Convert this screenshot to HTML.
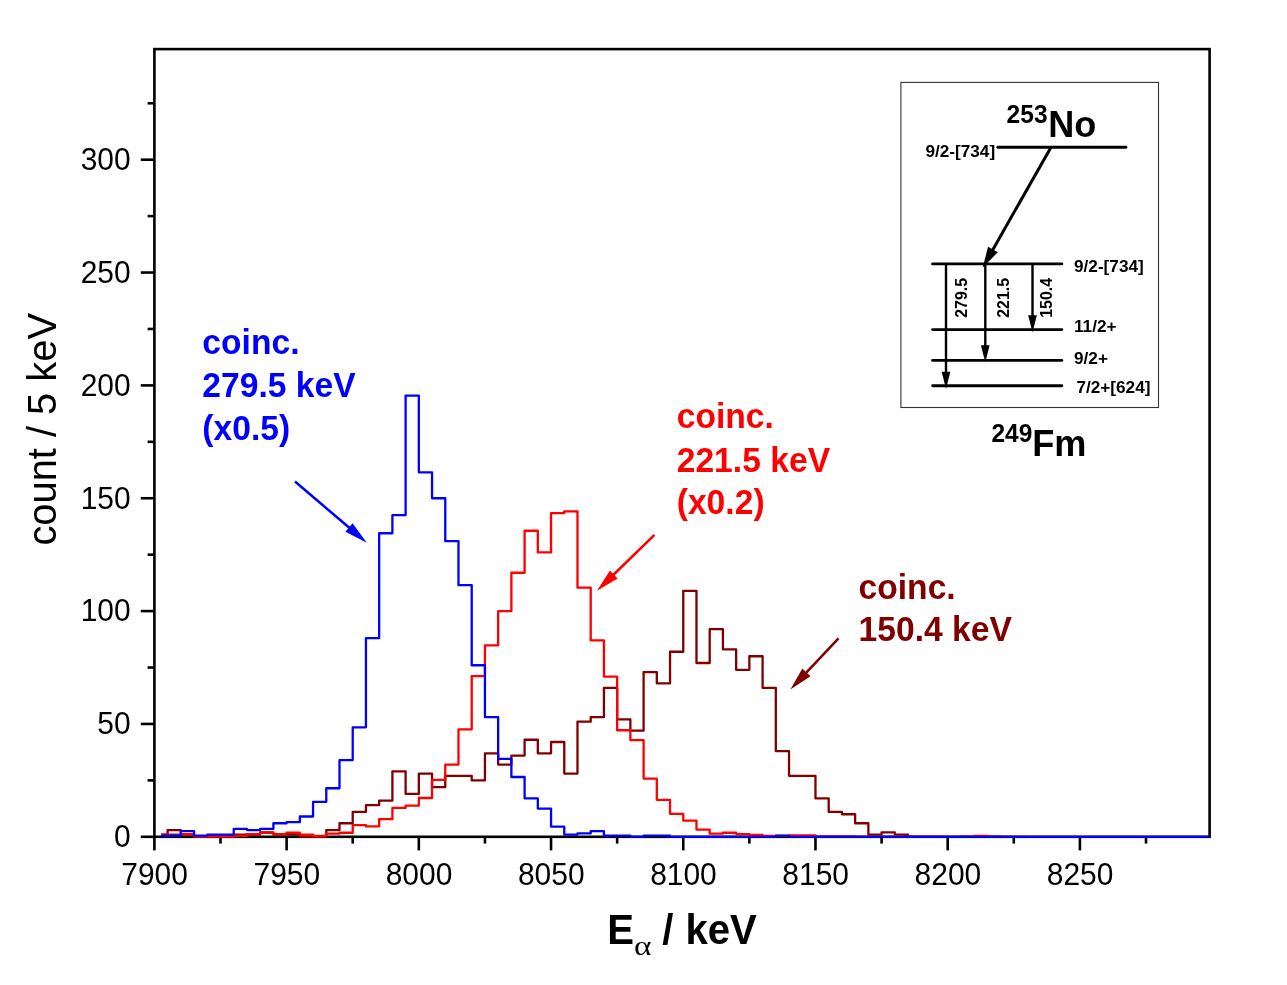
<!DOCTYPE html>
<html><head><meta charset="utf-8"><title>chart</title>
<style>
html,body{margin:0;padding:0;background:#fff;}
body{width:1287px;height:985px;overflow:hidden;}
svg{display:block;font-family:"Liberation Sans",sans-serif;will-change:transform;}
.b{font-weight:bold;}
</style></head><body>
<svg width="1287" height="985" viewBox="0 0 1287 985">
<rect width="1287" height="985" fill="#fff"/>
<g stroke="#000" stroke-width="2.6" fill="none" stroke-linecap="butt">
<rect x="154.40" y="49.10" width="1055.20" height="787.70"/>
<line x1="154.40" y1="836.80" x2="154.40" y2="850.40"/>
<line x1="220.51" y1="836.80" x2="220.51" y2="843.60"/>
<line x1="286.62" y1="836.80" x2="286.62" y2="850.40"/>
<line x1="352.72" y1="836.80" x2="352.72" y2="843.60"/>
<line x1="418.83" y1="836.80" x2="418.83" y2="850.40"/>
<line x1="484.94" y1="836.80" x2="484.94" y2="843.60"/>
<line x1="551.04" y1="836.80" x2="551.04" y2="850.40"/>
<line x1="617.15" y1="836.80" x2="617.15" y2="843.60"/>
<line x1="683.26" y1="836.80" x2="683.26" y2="850.40"/>
<line x1="749.37" y1="836.80" x2="749.37" y2="843.60"/>
<line x1="815.47" y1="836.80" x2="815.47" y2="850.40"/>
<line x1="881.58" y1="836.80" x2="881.58" y2="843.60"/>
<line x1="947.69" y1="836.80" x2="947.69" y2="850.40"/>
<line x1="1013.80" y1="836.80" x2="1013.80" y2="843.60"/>
<line x1="1079.90" y1="836.80" x2="1079.90" y2="850.40"/>
<line x1="1146.01" y1="836.80" x2="1146.01" y2="843.60"/>
<line x1="154.40" y1="836.80" x2="140.80" y2="836.80"/>
<line x1="154.40" y1="780.38" x2="147.60" y2="780.38"/>
<line x1="154.40" y1="723.95" x2="140.80" y2="723.95"/>
<line x1="154.40" y1="667.52" x2="147.60" y2="667.52"/>
<line x1="154.40" y1="611.10" x2="140.80" y2="611.10"/>
<line x1="154.40" y1="554.67" x2="147.60" y2="554.67"/>
<line x1="154.40" y1="498.25" x2="140.80" y2="498.25"/>
<line x1="154.40" y1="441.82" x2="147.60" y2="441.82"/>
<line x1="154.40" y1="385.40" x2="140.80" y2="385.40"/>
<line x1="154.40" y1="328.97" x2="147.60" y2="328.97"/>
<line x1="154.40" y1="272.55" x2="140.80" y2="272.55"/>
<line x1="154.40" y1="216.12" x2="147.60" y2="216.12"/>
<line x1="154.40" y1="159.70" x2="140.80" y2="159.70"/>
<line x1="154.40" y1="103.27" x2="147.60" y2="103.27"/>
</g>
<text transform="translate(154.60,884.80) scale(0.9360,1)" font-size="32.0" text-anchor="middle" fill="#000">7900</text>
<text transform="translate(286.81,884.80) scale(0.9360,1)" font-size="32.0" text-anchor="middle" fill="#000">7950</text>
<text transform="translate(419.03,884.80) scale(0.9360,1)" font-size="32.0" text-anchor="middle" fill="#000">8000</text>
<text transform="translate(551.25,884.80) scale(0.9360,1)" font-size="32.0" text-anchor="middle" fill="#000">8050</text>
<text transform="translate(683.46,884.80) scale(0.9360,1)" font-size="32.0" text-anchor="middle" fill="#000">8100</text>
<text transform="translate(815.67,884.80) scale(0.9360,1)" font-size="32.0" text-anchor="middle" fill="#000">8150</text>
<text transform="translate(947.89,884.80) scale(0.9360,1)" font-size="32.0" text-anchor="middle" fill="#000">8200</text>
<text transform="translate(1080.11,884.80) scale(0.9360,1)" font-size="32.0" text-anchor="middle" fill="#000">8250</text>
<text transform="translate(130.60,847.10) scale(0.9360,1)" font-size="32.0" text-anchor="end" fill="#000">0</text>
<text transform="translate(130.60,734.25) scale(0.9360,1)" font-size="32.0" text-anchor="end" fill="#000">50</text>
<text transform="translate(130.60,621.40) scale(0.9360,1)" font-size="32.0" text-anchor="end" fill="#000">100</text>
<text transform="translate(130.60,508.55) scale(0.9360,1)" font-size="32.0" text-anchor="end" fill="#000">150</text>
<text transform="translate(130.60,395.70) scale(0.9360,1)" font-size="32.0" text-anchor="end" fill="#000">200</text>
<text transform="translate(130.60,282.85) scale(0.9360,1)" font-size="32.0" text-anchor="end" fill="#000">250</text>
<text transform="translate(130.60,170.00) scale(0.9360,1)" font-size="32.0" text-anchor="end" fill="#000">300</text>
<text transform="translate(55.90,545.60) rotate(-90) scale(0.9630,1)" font-size="41.4" text-anchor="start" fill="#000">count / 5 keV</text>
<text transform="translate(607.20,943.90) scale(0.9530,1)" font-size="42.1" text-anchor="start" fill="#000" font-weight="bold">E</text>
<text transform="translate(634.00,954.60) scale(1.2700,1)" font-size="26.3" text-anchor="start" fill="#000" font-family="Liberation Serif,serif">α</text>
<text transform="translate(662.30,943.90) scale(0.9530,1)" font-size="42.1" text-anchor="start" fill="#000" font-weight="bold">/</text>
<text transform="translate(685.40,943.90) scale(0.9530,1)" font-size="42.1" text-anchor="start" fill="#000" font-weight="bold">keV</text>
<path d="M161.01 834.54H167.62V830.03H180.84V834.54H194.06V836.80H207.29H220.51H233.73V834.54H246.95H260.17V832.29H273.39V834.54H286.62H299.84V836.80H313.06H326.28V830.03H339.50V823.26H352.72V811.97H365.94V805.20H379.17V800.69H392.39V771.35H405.61V793.92H418.83V773.60H432.05V787.15H445.27V775.86H458.49H471.72V780.38H484.94V753.29H498.16V764.58H511.38V755.55H524.60V739.75H537.82V753.29H551.04V742.01H564.27V773.60H577.49V721.69H590.71V717.18H603.93V687.84H617.15V719.44H630.37V730.72H643.60V672.04H656.82V683.32H670.04V651.73H683.26V590.79H696.48V663.01H709.70V629.16H722.92V649.47H736.15V669.78H749.37V656.24H762.59V687.84H775.81V751.03H789.03V775.86H802.25H815.47V798.43H828.70V811.97H841.92V814.23H855.14V823.26H868.36V834.54H881.58V832.29H894.80V834.54H908.03V836.80H921.25H934.47H947.69" fill="none" stroke="#800000" stroke-width="2.3" stroke-linejoin="round"/>
<path d="M161.01 834.54H167.62H180.84V834.09H194.06V836.35H207.29H220.51H233.73V835.90H246.95V834.09H260.17V832.74H273.39V834.09H286.62V832.74H299.84V834.54H313.06V835.90H326.28V833.64H339.50V832.74H352.72V825.06H365.94V826.42H379.17V819.20H392.39V807.91H405.61V805.65H418.83V797.98H432.05V779.92H445.27V764.58H458.49V729.37H471.72V676.10H484.94V645.41H498.16V611.10H511.38V572.73H524.60V530.75H537.82V552.42H551.04V513.15H564.27V511.34H577.49V587.63H590.71V640.44H603.93V676.55H617.15V730.27H630.37V740.20H643.60V778.57H656.82V799.79H670.04V813.78H683.26V820.55H696.48V829.58H709.70V833.64H722.92V832.74H736.15V834.09H749.37V834.99H762.59V835.90H775.81H789.03V835.45H802.25H815.47V836.35H828.70H841.92H855.14V836.80H868.36H881.58H894.80H908.03H921.25H934.47H947.69H960.91V836.35H974.13V835.90H987.35V836.35H1000.58V836.80H1013.80H1027.02" fill="none" stroke="#ff0000" stroke-width="2.3" stroke-linejoin="round"/>
<path d="M161.01 835.67H167.62H180.84V831.16H194.06V835.67H207.29V834.54H220.51H233.73V828.90H246.95V830.03H260.17V828.90H273.39V823.26H286.62V822.13H299.84V816.49H313.06V801.82H326.28V788.27H339.50V760.06H352.72V727.34H365.94V638.18H379.17V533.23H392.39V515.18H405.61V395.56H418.83V472.29H432.05V498.25H445.27V541.13H458.49V585.14H471.72V665.27H484.94V717.18H498.16V758.93H511.38V776.99H524.60V798.43H537.82V808.59H551.04V826.64H564.27V834.54H577.49V833.41H590.71V831.16H603.93V835.67H617.15H630.37V836.80H643.60V835.67H656.82H670.04V836.80H683.26H696.48H709.70H722.92H736.15H749.37H762.59H775.81V835.67H789.03V836.80H802.25H815.47H828.70H841.92H855.14H868.36H881.58H894.80H908.03H921.25H934.47H947.69H960.91H974.13H987.35H1000.58H1013.80H1027.02H1040.24H1053.46H1066.68H1079.90H1093.13H1106.35H1119.57H1132.79H1146.01H1159.23H1172.46H1185.68H1198.90H1209.60" fill="none" stroke="#0000ff" stroke-width="2.3" stroke-linejoin="round"/>
<text transform="translate(202.30,354.20) scale(0.9480,1)" font-size="35.5" text-anchor="start" fill="#0000ff" font-weight="bold">coinc.</text><text transform="translate(202.30,397.00) scale(0.9480,1)" font-size="35.5" text-anchor="start" fill="#0000ff" font-weight="bold">279.5 keV</text><text transform="translate(202.30,439.60) scale(0.9480,1)" font-size="35.5" text-anchor="start" fill="#0000ff" font-weight="bold">(x0.5)</text>
<text transform="translate(676.70,428.20) scale(0.9480,1)" font-size="35.5" text-anchor="start" fill="#ff0000" font-weight="bold">coinc.</text><text transform="translate(676.70,471.50) scale(0.9480,1)" font-size="35.5" text-anchor="start" fill="#ff0000" font-weight="bold">221.5 keV</text><text transform="translate(676.70,514.40) scale(0.9480,1)" font-size="35.5" text-anchor="start" fill="#ff0000" font-weight="bold">(x0.2)</text>
<text transform="translate(858.50,598.60) scale(0.9480,1)" font-size="35.5" text-anchor="start" fill="#800000" font-weight="bold">coinc.</text><text transform="translate(858.50,641.00) scale(0.9480,1)" font-size="35.5" text-anchor="start" fill="#800000" font-weight="bold">150.4 keV</text>
<line x1="295.00" y1="481.50" x2="352.55" y2="530.56" stroke="#0000ff" stroke-width="2.5"/><polygon points="366.80,542.70 345.42,531.71 348.99,527.52 352.56,523.33" fill="#0000ff"/>
<line x1="654.50" y1="534.80" x2="610.41" y2="577.74" stroke="#ff0000" stroke-width="2.5"/><polygon points="597.00,590.80 609.93,570.53 613.76,574.47 617.60,578.41" fill="#ff0000"/>
<line x1="838.50" y1="638.40" x2="803.23" y2="675.87" stroke="#800000" stroke-width="2.5"/><polygon points="790.40,689.50 802.36,668.62 806.44,672.46 810.52,676.30" fill="#800000"/>
<rect x="900.9" y="82.4" width="257.6" height="325.1" fill="#fff" stroke="#333" stroke-width="1.1"/>
<g stroke="#000" stroke-width="2.9" stroke-linecap="round">
<line x1="997.9" y1="147.2" x2="1125.9" y2="147.2"/>
<line x1="932.6" y1="263.9" x2="1061.8" y2="263.9"/>
<line x1="932.6" y1="329.6" x2="1061.8" y2="329.6"/>
<line x1="932.6" y1="360.4" x2="1061.8" y2="360.4"/>
<line x1="932.6" y1="385.7" x2="1061.8" y2="385.7"/>
</g>
<line x1="1050.60" y1="147.90" x2="990.85" y2="253.16" stroke="#000" stroke-width="3.0"/><polygon points="982.60,267.70 988.09,246.78 992.92,249.52 997.74,252.26" fill="#000"/>
<line x1="946.00" y1="263.90" x2="946.00" y2="375.16" stroke="#000" stroke-width="2.4"/><polygon points="946.00,389.00 941.65,371.70 946.00,371.70 950.35,371.70" fill="#000"/>
<line x1="985.30" y1="263.90" x2="985.30" y2="348.76" stroke="#000" stroke-width="2.4"/><polygon points="985.30,362.60 980.95,345.30 985.30,345.30 989.65,345.30" fill="#000"/>
<line x1="1032.50" y1="263.90" x2="1032.50" y2="318.76" stroke="#000" stroke-width="2.4"/><polygon points="1032.50,332.60 1028.15,315.30 1032.50,315.30 1036.85,315.30" fill="#000"/>
<text transform="translate(925.40,156.50)" font-size="17.2" text-anchor="start" fill="#000" font-weight="bold">9/2-[734]</text>
<text transform="translate(1074.00,271.90)" font-size="17.2" text-anchor="start" fill="#000" font-weight="bold">9/2-[734]</text>
<text transform="translate(1074.00,332.30)" font-size="17.2" text-anchor="start" fill="#000" font-weight="bold">11/2+</text>
<text transform="translate(1074.00,364.20)" font-size="17.2" text-anchor="start" fill="#000" font-weight="bold">9/2+</text>
<text transform="translate(1076.40,392.90)" font-size="17.2" text-anchor="start" fill="#000" font-weight="bold">7/2+[624]</text>
<text transform="translate(966.70,317.80) rotate(-90)" font-size="15.9" text-anchor="start" fill="#000" font-weight="bold">279.5</text>
<text transform="translate(1009.30,317.80) rotate(-90)" font-size="15.9" text-anchor="start" fill="#000" font-weight="bold">221.5</text>
<text transform="translate(1052.20,317.80) rotate(-90)" font-size="15.9" text-anchor="start" fill="#000" font-weight="bold">150.4</text>
<text transform="translate(1006.60,122.60) scale(0.9700,1)" font-size="25.3" text-anchor="start" fill="#000" font-weight="bold">253</text>
<text transform="translate(1048.20,137.00)" font-size="36.1" text-anchor="start" fill="#000" font-weight="bold">No</text>
<text transform="translate(991.40,441.60) scale(0.9700,1)" font-size="25.3" text-anchor="start" fill="#000" font-weight="bold">249</text>
<text transform="translate(1032.20,455.90) scale(0.9800,1)" font-size="36.9" text-anchor="start" fill="#000" font-weight="bold">Fm</text>
</svg></body></html>
